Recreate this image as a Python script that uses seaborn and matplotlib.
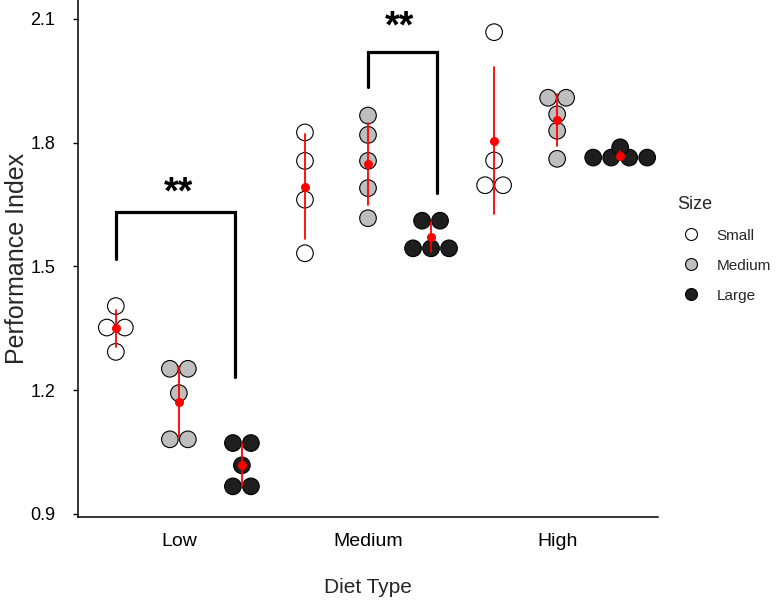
import numpy as np
import pandas as pd
import matplotlib
matplotlib.use("Agg")
import matplotlib.pyplot as plt
from matplotlib.lines import Line2D
import seaborn as sns

# ---------------- data ----------------
diets = ["Low", "Medium", "High"]
sizes = ["Small", "Medium", "Large"]

low_small = [1.404, 1.352, 1.352, 1.293]
low_medium = [1.252, 1.252, 1.193, 1.081, 1.081]
low_large = [1.072, 1.072, 1.018, 0.967, 0.967]
medium_small = [1.825, 1.756, 1.662, 1.532]
medium_medium = [1.866, 1.819, 1.756, 1.690, 1.617]
medium_large = [1.611, 1.611, 1.544, 1.544, 1.544]
high_small = [2.068, 1.757, 1.697, 1.697]
high_medium = [1.909, 1.909, 1.869, 1.829, 1.761]
high_large = [1.789, 1.764, 1.764, 1.764, 1.764]

yticks = [0.9, 1.2, 1.5, 1.8, 2.1]
ytick_labels = ["0.9", "1.2", "1.5", "1.8", "2.1"]
sig_labels = ["**", "**"]

# ---------------- style ----------------
size_colors = ["white", "#BEBEBE", "#1E1E1E"]
dot_step = 0.2855          # horizontal spacing of stacked dots (x units)

sns.set_style("ticks")
plt.rcParams["font.family"] = ["Liberation Sans", "DejaVu Sans"]

groups = {
    ("Low", "Small"): low_small, ("Low", "Medium"): low_medium, ("Low", "Large"): low_large,
    ("Medium", "Small"): medium_small, ("Medium", "Medium"): medium_medium, ("Medium", "Large"): medium_large,
    ("High", "Small"): high_small, ("High", "Medium"): high_medium, ("High", "Large"): high_large,
}

rows = []
for di, diet in enumerate(diets):
    for si, size in enumerate(sizes):
        vals = groups[(diet, size)]
        pos = di * len(sizes) + si
        for v in sorted(set(vals)):
            n = vals.count(v)
            for k in range(n):
                rows.append({"Diet": diet, "Size": size, "value": v, "pos": pos,
                             "x": pos + (k - (n - 1) / 2) * dot_step})
df = pd.DataFrame(rows)

fig = plt.figure(figsize=(7.76, 6.0), dpi=100)
ax = fig.add_axes([78 / 776, 83 / 600, 580 / 776, 517 / 600])

sns.scatterplot(data=df, x="x", y="value", hue="Size", hue_order=sizes,
                palette=dict(zip(sizes, size_colors)), s=143, edgecolor="black",
                linewidth=0.8, legend=False, ax=ax, zorder=2)

sns.pointplot(data=df, x="pos", y="value", native_scale=True, errorbar="sd",
              color="red", linestyle="none", marker="o", markersize=6.5,
              markeredgewidth=0, err_kws={"linewidth": 1.3, "zorder": 3},
              ax=ax, zorder=4)

# significance brackets (annotation geometry)
brackets = [
    dict(x0=0.0, x1=1.89, top=1.631, left=1.517, right=1.231, tx=1.0, ty=1.653),
    dict(x0=4.0, x1=5.10, top=2.021, left=1.936, right=1.677, tx=4.5, ty=2.056),
]
for b, lab in zip(brackets, sig_labels):
    ax.plot([b["x0"], b["x0"], b["x1"], b["x1"]],
            [b["left"], b["top"], b["top"], b["right"]],
            color="black", linewidth=2.3, solid_joinstyle="miter", zorder=5)
    ax.text(b["tx"], b["ty"], lab, ha="center", va="baseline",
            fontsize=27, fontweight="bold", color="black")

ax.set_xlim(-0.6, 8.6)
ax.set_ylim(0.8927, 2.146)
ax.set_xticks([1, 4, 7])
ax.set_xticklabels(diets)
ax.set_yticks(yticks)
ax.set_yticklabels(ytick_labels)
ax.tick_params(axis="x", length=0, pad=11.5, labelsize=14, colors="black")
ax.tick_params(axis="y", length=3.5, width=1, pad=13, labelsize=13, colors="black")
for s in ["top", "right"]:
    ax.spines[s].set_visible(False)
for s in ["left", "bottom"]:
    ax.spines[s].set_linewidth(1.1)
    ax.spines[s].set_color("black")

ax.set_xlabel("Diet Type", fontsize=15, labelpad=20)
ax.set_ylabel("Performance Index", fontsize=18, labelpad=1)

handles = [Line2D([0], [0], marker="o", linestyle="none", markerfacecolor=c,
                  markeredgecolor="black", markeredgewidth=0.8, markersize=8.6)
           for c in size_colors]
ax.legend(handles, sizes, title="Size", loc="upper left",
          bbox_to_anchor=(670 / 776, 1 - 188 / 600), bbox_transform=fig.transFigure,
          frameon=False, fontsize=11, title_fontsize=13, handlelength=1.8,
          handletextpad=0.75, labelspacing=1.05, borderpad=0, alignment="left")

fig.savefig("out.png", dpi=100)
